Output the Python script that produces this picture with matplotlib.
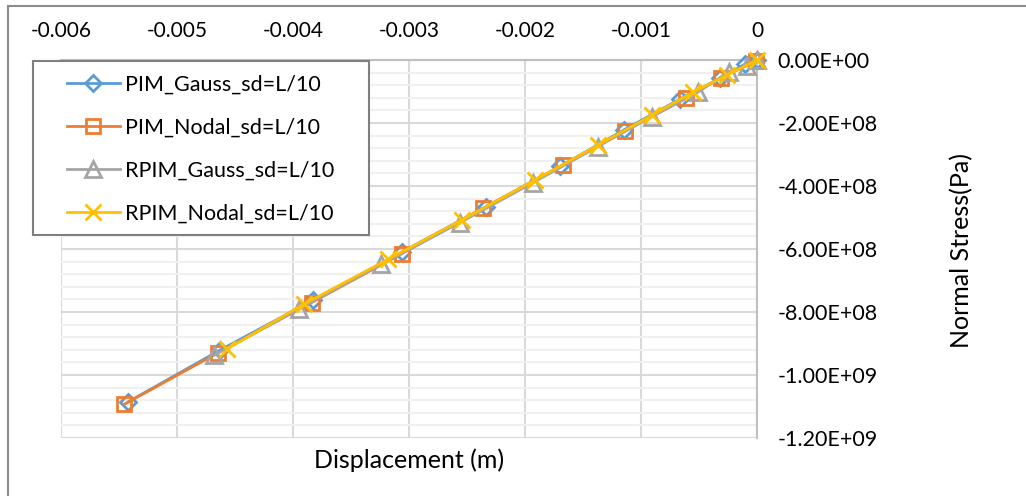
import numpy as np
import matplotlib
matplotlib.use("Agg")
import matplotlib.pyplot as plt
from matplotlib.lines import Line2D
from matplotlib.patches import Rectangle
from matplotlib.ticker import MultipleLocator

plt.rcParams['font.family'] = ['Lato', 'DejaVu Sans']

# displacement (m) and normal stress (Pa) for each method
pim_gauss_x = [-0.00542, -0.004629, -0.003825, -0.003058, -0.002339, -0.001698,
               -0.001147, -0.000664, -0.000319, -0.000103, 0.0]
pim_gauss_y = [-1.085e9, -9.21e8, -7.62e8, -6.09e8, -4.66e8, -3.38e8,
               -2.22e8, -1.24e8, -5.8e7, -1.3e7, 0.0]

pim_nodal_x = [-0.005454, -0.004644, -0.003839, -0.003063, -0.00236, -0.001675,
               -0.001142, -0.000612, -0.00031, -0.00001]
pim_nodal_y = [-1.093e9, -9.29e8, -7.70e8, -6.15e8, -4.71e8, -3.33e8,
               -2.25e8, -1.21e8, -5.6e7, -3e6]

rpim_gauss_x = [-0.004681, -0.003948, -0.003241, -0.00256, -0.001928, -0.001373,
                -0.000908, -0.000509, -0.000241, -0.000086, 0.0]
rpim_gauss_y = [-9.37e8, -7.90e8, -6.49e8, -5.16e8, -3.89e8, -2.75e8,
                -1.80e8, -1.02e8, -3.7e7, -1.9e7, 0.0]

rpim_nodal_x = [-0.004572, -0.003905, -0.003181, -0.002546, -0.001914, -0.001368,
                -0.000908, -0.000552, -0.000259, 0.0]
rpim_nodal_y = [-9.18e8, -7.75e8, -6.33e8, -5.08e8, -3.81e8, -2.70e8,
                -1.76e8, -1.02e8, -4.8e7, 0.0]

labels = ['PIM_Gauss_sd=L/10', 'PIM_Nodal_sd=L/10',
          'RPIM_Gauss_sd=L/10', 'RPIM_Nodal_sd=L/10']
xticks = [-0.006, -0.005, -0.004, -0.003, -0.002, -0.001, 0]
xtick_labels = ['-0.006', '-0.005', '-0.004', '-0.003', '-0.002', '-0.001', '0']
yticks = [0, -2e8, -4e8, -6e8, -8e8, -1e9, -1.2e9]
ytick_labels = ['0.00E+00', '-2.00E+08', '-4.00E+08', '-6.00E+08',
                '-8.00E+08', '-1.00E+09', '-1.20E+09']

W, H = 1026, 496
fig = plt.figure(figsize=(W / 100, H / 100), dpi=100)
ax = fig.add_axes([61 / W, 1 - 438 / H, (757 - 61) / W, (438 - 60) / H])

fs_xtick = 15
fs_ytick = 15.5
fs_leg = 15.5
fs_title = 18

series = [
    (pim_gauss_x, pim_gauss_y, '#5B9BD5', 'D', 8.0),
    (pim_nodal_x, pim_nodal_y, '#ED7D31', 's', 10.0),
    (rpim_gauss_x, rpim_gauss_y, '#A5A5A5', '^', 11.0),
    (rpim_nodal_x, rpim_nodal_y, '#FFC000', 'x', 11.0),
]
for (x, y, c, m, ms), lab in zip(series, labels):
    ax.plot(x, y, color=c, lw=2.0, marker=m, ms=ms, mfc='none', mec=c,
            mew=2.0, label=lab, clip_on=False, zorder=3)

ax.set_xlim(-0.006, 0)
ax.set_ylim(-1.2e9, 0)
ax.set_xticks(xticks)
ax.set_xticklabels(xtick_labels)
ax.set_yticks(yticks)
ax.set_yticklabels(ytick_labels)
ax.yaxis.set_minor_locator(MultipleLocator(4e7))

ax.xaxis.tick_top()
ax.yaxis.tick_right()
ax.tick_params(axis='x', which='both', length=0, pad=14, labelsize=fs_xtick)
ax.tick_params(axis='y', which='both', length=0, pad=15, labelsize=fs_ytick)
for lab in ax.get_yticklabels():
    lab.set_horizontalalignment('left')

ax.grid(True, which='major', color='#d9d9d9', lw=1.5, zorder=0)
ax.grid(True, which='minor', axis='y', color='#f0f0f0', lw=1.5, zorder=0)
ax.set_axisbelow(True)
for side in ['left', 'bottom']:
    ax.spines[side].set_visible(False)
for side in ['top', 'right']:
    ax.spines[side].set_color('#bfbfbf')
    ax.spines[side].set_linewidth(1.5)

# legend box drawn separately so its padding can differ left/top
fig.add_artist(Rectangle((33 / W, 1 - 235 / H), (369 - 33) / W, (235 - 61) / H,
                         transform=fig.transFigure, facecolor='white',
                         edgecolor='#7f7f7f', lw=1.5, zorder=5))
leg = fig.legend(loc='upper left', bbox_to_anchor=(67 / W, 1 - 75 / H),
                 fontsize=fs_leg, frameon=False, handlelength=2.45,
                 labelspacing=1.06, borderpad=0, handletextpad=0.25,
                 borderaxespad=0)
leg.set_zorder(6)

fig.text(409 / W, 1 - 460 / H, 'Displacement (m)', fontsize=fs_title,
         ha='center', va='center')
fig.text(962 / W, 1 - 250 / H, 'Normal Stress(Pa)', fontsize=fs_title,
         rotation=90, ha='center', va='center')

# chart area border (top and left edges)
fig.add_artist(Line2D([8 / W, 1], [1 - 6 / H, 1 - 6 / H], color='#8c8c8c', lw=1.5))
fig.add_artist(Line2D([8 / W, 8 / W], [0, 1 - 6 / H], color='#8c8c8c', lw=1.5))

fig.savefig('out.png', dpi=100)
